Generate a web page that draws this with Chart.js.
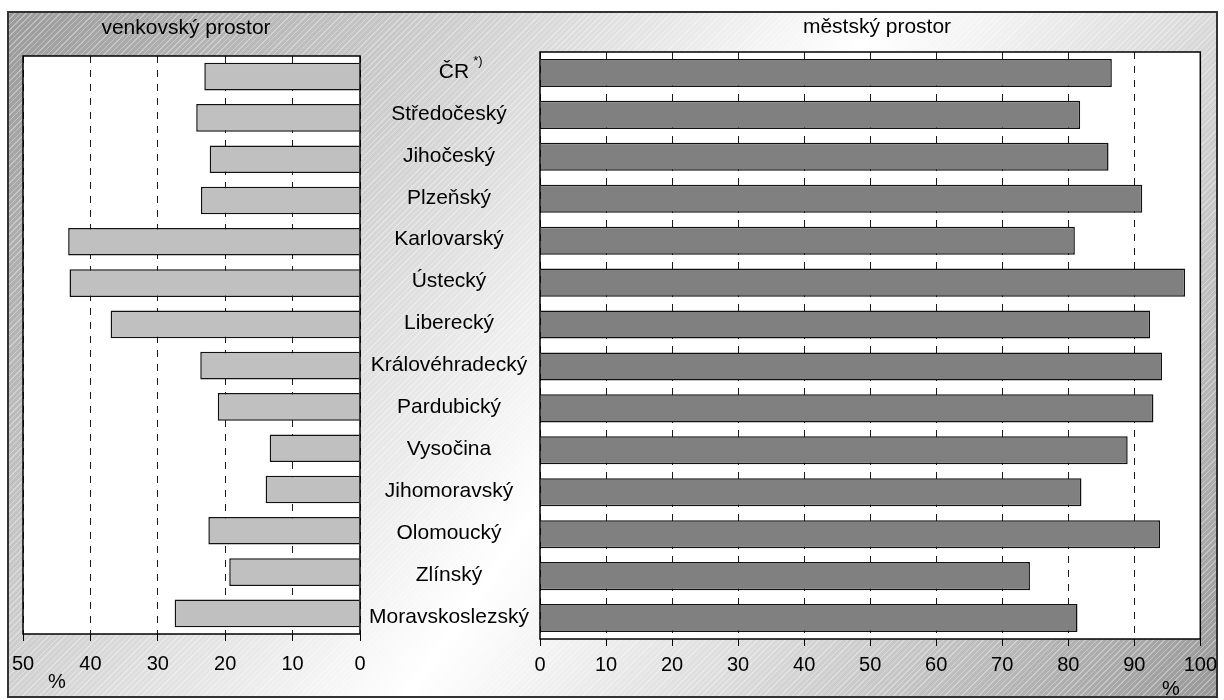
<!DOCTYPE html>
<html>
<head>
<meta charset="utf-8">
<script src="https://cdn.jsdelivr.net/npm/chart.js@4"></script>
<style>
  body { margin: 0; background: #fff; }
  #wrap { position: relative; width: 1224px; height: 700px; overflow: hidden; font-family: 'Liberation Sans', Arial, sans-serif; }
  #frame {
    position: absolute; left: 7px; top: 11px; width: 1211px; height: 687px;
    box-sizing: border-box; border: 2px solid #333;
    background:
      repeating-linear-gradient(135deg, rgba(255,255,255,0.35) 0px, rgba(255,255,255,0.35) 1px, rgba(255,255,255,0) 1px, rgba(255,255,255,0) 4px),
      linear-gradient(125deg, #9a9a9a 0%, #e4e4e4 38%, #ffffff 52%, #d8d8d8 72%, #989898 100%);
  }
  canvas { position: absolute; top: 0; }
  #left { left: 0; }
  #right { left: 360px; }
  .txt { position: absolute; color: #000; font-size: 21px; white-space: nowrap; line-height: 1; }
</style>
</head>
<body>
<div id="wrap">
  <div id="frame"></div>
  <canvas id="left" width="380" height="700"></canvas>
  <canvas id="right" width="864" height="700"></canvas>
  <div class="txt" style="left:186px; top:16px; transform:translateX(-50%);">venkovský prostor</div>
  <div class="txt" style="left:877px; top:15px; transform:translateX(-50%);">městský prostor</div>
  <div class="txt" style="left:48px; top:671px; font-size:20px;">%</div>
  <div class="txt" style="left:1162px; top:678px; font-size:20px;">%</div>
</div>
<script>
// regions (top to bottom)
const categories = ['ČR', 'Středočeský', 'Jihočeský', 'Plzeňský', 'Karlovarský', 'Ústecký', 'Liberecký',
  'Královéhradecký', 'Pardubický', 'Vysočina', 'Jihomoravský', 'Olomoucký', 'Zlínský', 'Moravskoslezský'];
const supMarks = ['*)', '', '', '', '', '', '', '', '', '', '', '', '', ''];

// share of population, %
const ruralValues = [23.1, 24.3, 22.3, 23.6, 43.3, 43.1, 37.0, 23.7, 21.1, 13.4, 14.0, 22.5, 19.4, 27.5];
const urbanValues = [86.6, 81.8, 86.1, 91.2, 81.0, 97.7, 92.4, 94.2, 92.9, 89.0, 82.0, 93.9, 74.2, 81.4];

const ruralTicks = [0, 10, 20, 30, 40, 50];
const urbanTicks = [0, 10, 20, 30, 40, 50, 60, 70, 80, 90, 100];

Chart.defaults.font.family = "'Liberation Sans', Arial, sans-serif";
Chart.defaults.color = '#000';

// white plot area with a black box round it
const plotBox = {
  id: 'plotBox',
  beforeDraw(chart) {
    const a = chart.chartArea, ctx = chart.ctx;
    ctx.save();
    ctx.fillStyle = '#fff';
    ctx.fillRect(a.left, a.top, a.right - a.left, a.bottom - a.top);
    ctx.restore();
  },
  afterDraw(chart) {
    const a = chart.chartArea, ctx = chart.ctx;
    ctx.save();
    ctx.strokeStyle = '#000';
    ctx.lineWidth = 1.5;
    ctx.strokeRect(a.left, a.top, a.right - a.left, a.bottom - a.top);
    ctx.restore();
  }
};

// category names in the gap between both charts
const middleLabels = {
  id: 'middleLabels',
  afterDraw(chart) {
    const ctx = chart.ctx, y = chart.scales.y;
    const cx = 89;
    ctx.save();
    ctx.fillStyle = '#000';
    ctx.textBaseline = 'middle';
    categories.forEach((name, i) => {
      const py = y.getPixelForValue(i) - 1;
      ctx.font = "21px 'Liberation Sans', Arial, sans-serif";
      if (supMarks[i]) {
        const w = ctx.measureText(name).width;
        ctx.textAlign = 'center';
        ctx.fillText(name, cx + 5, py);
        ctx.font = "13px 'Liberation Sans', Arial, sans-serif";
        ctx.textAlign = 'left';
        ctx.fillText(supMarks[i], cx + 5 + w / 2 + 4, py - 11);
      } else {
        ctx.textAlign = 'center';
        ctx.fillText(name, cx, py);
      }
    });
    ctx.restore();
  }
};

function xScale(max, tickValues, reverse, pad) {
  return {
    type: 'linear',
    position: 'bottom',
    min: 0,
    max: max,
    reverse: reverse,
    afterBuildTicks: s => { s.ticks = tickValues.map(v => ({ value: v })); },
    afterFit: s => { s.height = 40; },
    ticks: { font: { size: 20 }, padding: pad, maxRotation: 0 },
    grid: { color: '#1a1a1a', lineWidth: 1, tickLength: 7, tickColor: '#000', tickWidth: 1, tickBorderDash: [] },
    border: { display: false, dash: [7, 7] }
  };
}

new Chart(document.getElementById('left'), {
  type: 'bar',
  data: {
    labels: categories,
    datasets: [{
      data: ruralValues,
      backgroundColor: '#c0c0c0',
      borderColor: '#111',
      borderWidth: 1.5,
      barPercentage: 0.67,
      categoryPercentage: 1
    }]
  },
  options: {
    indexAxis: 'y',
    responsive: false,
    animation: false,
    devicePixelRatio: 1,
    layout: { padding: { left: 23, right: 20, top: 56, bottom: 26 } },
    plugins: { legend: { display: false }, tooltip: { enabled: false } },
    scales: {
      x: xScale(50, ruralTicks, true, 11),
      y: { type: 'category', display: false }
    }
  },
  plugins: [plotBox]
});

new Chart(document.getElementById('right'), {
  type: 'bar',
  data: {
    labels: categories,
    datasets: [{
      data: urbanValues,
      backgroundColor: '#808080',
      borderColor: '#111',
      borderWidth: 1.5,
      barPercentage: 0.67,
      categoryPercentage: 1
    }]
  },
  options: {
    indexAxis: 'y',
    responsive: false,
    animation: false,
    devicePixelRatio: 1,
    layout: { padding: { left: 180, right: 16, top: 52, bottom: 21 } },
    plugins: { legend: { display: false }, tooltip: { enabled: false } },
    scales: {
      x: xScale(100, urbanTicks, false, 7),
      y: { type: 'category', display: false }
    }
  },
  plugins: [plotBox, middleLabels]
});
</script>
</body>
</html>
